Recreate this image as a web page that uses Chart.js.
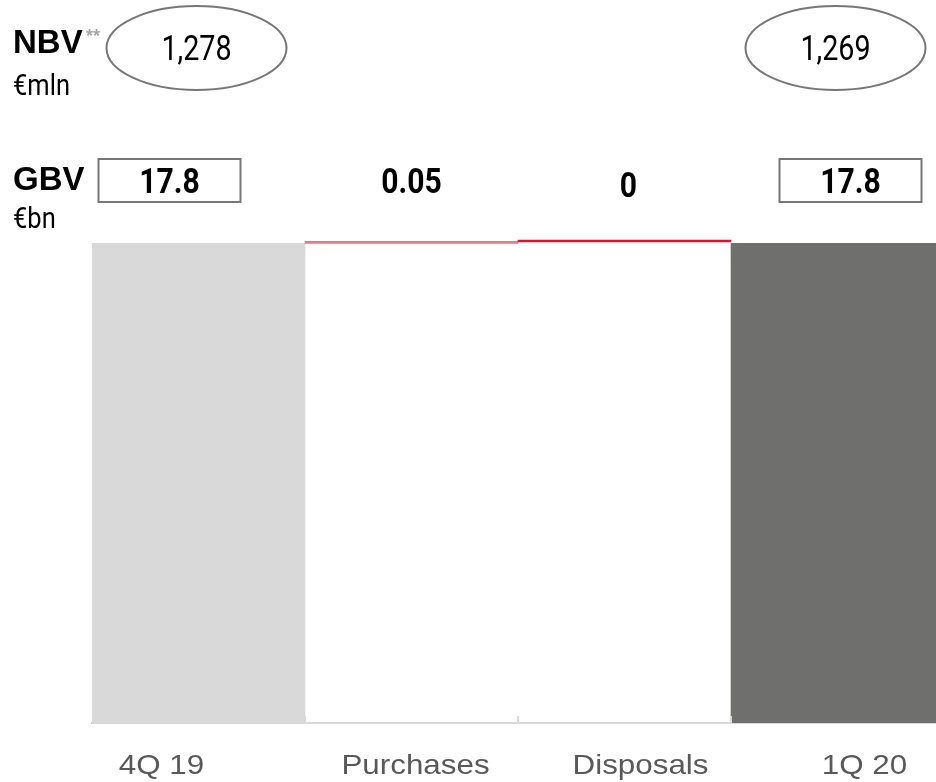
<!DOCTYPE html>
<html>
<head>
<meta charset="utf-8">
<script src="https://cdn.jsdelivr.net/npm/chart.js@4.4.1/dist/chart.umd.min.js"></script>
<style>
  html, body { margin: 0; padding: 0; background: #fff; overflow: hidden; }
  #wrap { width: 944px; height: 782px; }
</style>
</head>
<body>
<div id="wrap"><canvas id="myChart" width="944" height="782"></canvas></div>
<script>
// waterfall GBV 4Q19 -> 1Q20
const categories = ['4Q 19', 'Purchases', 'Disposals', '1Q 20'];
const barKinds = ['total', 'delta', 'delta', 'total'];
const gbvValues = [17.8, 0.05, 0, 17.8];
const gbvLabels = ['17.8', '0.05', '0', '17.8'];
const nbvLabels = ['1,278', null, null, '1,269'];
const barColors = ['#d9d9d9', '#e97985', '#e0102f', '#6f6f6d'];

// floating bars built from the values
let running = 0;
const barRanges = gbvValues.map((v, i) => {
    if (barKinds[i] === 'total') {
        running = v;
        return [0, v];
    }
    const from = running;
    running = running + v;
    return [from, running];
});

function stretchedText(ctx, text, x, y, font, scaleX) {
    ctx.save();
    ctx.font = font;
    ctx.translate(x, y);
    ctx.scale(scaleX, 1);
    ctx.fillText(text, 0, 0);
    ctx.restore();
}

const annotations = {
    id: 'annotations',
    afterDraw(chart) {
        const ctx = chart.ctx;
        const xs = chart.scales.x;
        const area = chart.chartArea;
        const boxShift = [-29, 0, 4, 13];
        const labelShift = [-37, 4, 16, 27];

        ctx.save();
        ctx.fillStyle = '#000';
        ctx.textBaseline = 'alphabetic';
        ctx.textAlign = 'left';
        ctx.font = 'bold 33px "Liberation Sans"';
        ctx.fillText('NBV', 13, 53);
        ctx.fillText('GBV', 13, 190);
        ctx.fillStyle = '#a6a6a6';
        ctx.font = 'bold 18px "Liberation Sans"';
        ctx.fillText('**', 86, 42);
        ctx.fillStyle = '#000';
        stretchedText(ctx, '€mln', 13, 95, '30px Roboto', 0.85);
        stretchedText(ctx, '€bn', 13, 228, '30px Roboto', 0.85);

        ctx.textAlign = 'center';
        categories.forEach((c, i) => {
            const cx = xs.getPixelForValue(i);
            if (nbvLabels[i]) {
                ctx.beginPath();
                ctx.ellipse(cx - 2, 48, 90, 42, 0, 0, Math.PI * 2);
                ctx.strokeStyle = '#777';
                ctx.lineWidth = 2;
                ctx.stroke();
                ctx.fillStyle = '#000';
                stretchedText(ctx, nbvLabels[i], cx - 2, 60, '35px Roboto', 0.82);
            }
            const bx = cx + boxShift[i];
            if (barKinds[i] === 'total') {
                ctx.strokeStyle = '#777';
                ctx.lineWidth = 2;
                ctx.strokeRect(bx - 71, 159, 142, 43);
            }
            ctx.fillStyle = '#000';
            stretchedText(ctx, gbvLabels[i], bx, gbvLabels[i] === '0' ? 197 : 193, 'bold 35px Roboto', 0.86);

            // category label under the axis
            ctx.fillStyle = '#595959';
            stretchedText(ctx, c, cx + labelShift[i], area.bottom + 51, '28px "Liberation Sans"', 1.12);
        });

        // small ticks between categories on the base line
        ctx.strokeStyle = '#d9d9d9';
        ctx.lineWidth = 2;
        for (let i = 0; i < categories.length - 1; i++) {
            const tx = (xs.getPixelForValue(i) + xs.getPixelForValue(i + 1)) / 2;
            ctx.beginPath();
            ctx.moveTo(tx, area.bottom);
            ctx.lineTo(tx, area.bottom - 7);
            ctx.stroke();
        }
        ctx.restore();
    }
};

new Chart(document.getElementById('myChart').getContext('2d'), {
    type: 'bar',
    data: {
        labels: categories,
        datasets: [{
            label: 'GBV',
            data: barRanges,
            backgroundColor: barColors,
            borderWidth: 0,
            minBarLength: 2,
            barPercentage: 1,
            categoryPercentage: 1
        }]
    },
    options: {
        responsive: false,
        animation: false,
        layout: { padding: { top: 238, left: 92, right: 0, bottom: 59 } },
        plugins: {
            legend: { display: false },
            tooltip: { enabled: false }
        },
        scales: {
            x: {
                grid: { display: false, drawTicks: false },
                border: { display: true, color: '#d9d9d9', width: 2 },
                ticks: { display: false },
                afterFit(scale) { scale.height = 0; }
            },
            y: {
                display: false,
                min: 0,
                max: 18
            }
        }
    },
    plugins: [annotations]
});
</script>
</body>
</html>
